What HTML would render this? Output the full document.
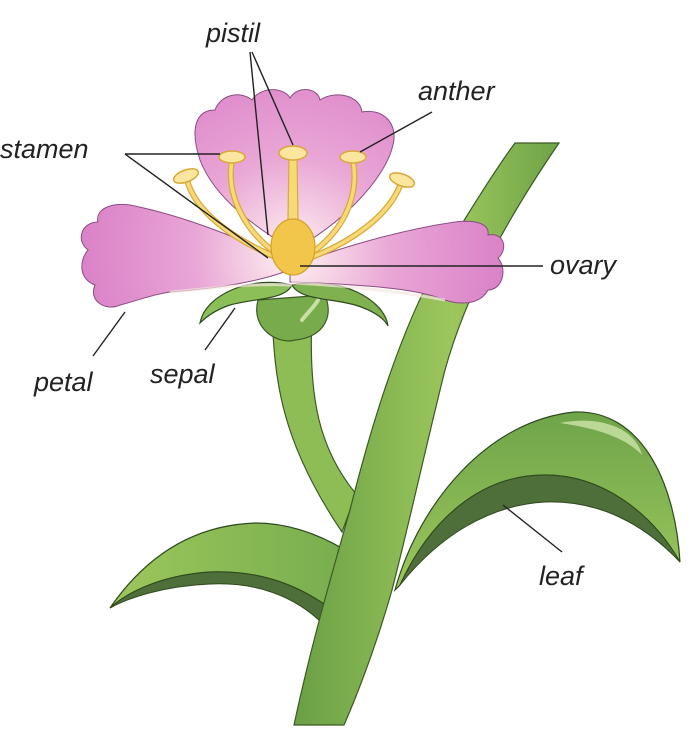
<!DOCTYPE html>
<html><head><meta charset="utf-8"><style>
html,body{margin:0;padding:0;background:#fff;}
svg{display:block;}
text{font-family:"Liberation Sans",sans-serif;font-style:italic;font-size:27px;fill:#222;}
</style></head><body>
<svg width="691" height="737" viewBox="0 0 691 737" xmlns="http://www.w3.org/2000/svg">
<defs>
<linearGradient id="stem" x1="0" x2="1" y1="0" y2="0"><stop offset="0" stop-color="#6a9f45"/><stop offset="0.6" stop-color="#9cc75c"/><stop offset="1" stop-color="#6ea348"/></linearGradient>
<linearGradient id="leaf" x1="0" x2="0" y1="0" y2="1"><stop offset="0" stop-color="#6fa44a"/><stop offset="1" stop-color="#9cc75c"/></linearGradient>
<linearGradient id="leafL" x1="0" x2="1" y1="0" y2="0"><stop offset="0" stop-color="#9cc75c"/><stop offset="1" stop-color="#78ad4e"/></linearGradient>
<radialGradient id="pet" cx="293" cy="255" r="220" gradientUnits="userSpaceOnUse"><stop offset="0" stop-color="#fff3f0"/><stop offset="0.45" stop-color="#e9a6d6"/><stop offset="1" stop-color="#d97fc6"/></radialGradient>
</defs>
<!-- flower stalk -->
<path d="M272,315 C275,380 280,440 342,532 L356,494 C320,450 308,400 312,315 Z" fill="#8fbd55" stroke="#3c5a25" stroke-width="1.2"/>
<!-- left leaf -->
<path d="M110,608 C150,550 200,525 255,523 C290,523 320,535 345,550 L335,612 C300,585 260,570 210,572 C165,575 130,590 110,608 Z" fill="url(#leafL)" stroke="#2f4a1e" stroke-width="1.2"/>
<path d="M110,608 C130,590 165,575 210,572 C260,570 300,585 335,612 L325,626 C295,595 255,582 210,584 C165,586 130,597 110,608 Z" fill="#4e6e3a" stroke="#2f4a1e" stroke-width="1"/>
<!-- right leaf -->
<path d="M395,590 C420,500 490,420 575,412 C640,410 675,480 680,562 C650,510 600,475 545,475 C480,475 430,520 400,585 Z" fill="url(#leaf)" stroke="#2f4a1e" stroke-width="1.2"/>
<path d="M680,562 C650,510 600,475 545,475 C480,475 430,520 400,585 C440,535 490,505 545,502 C600,500 645,525 680,562 Z" fill="#4e6e3a" stroke="#2f4a1e" stroke-width="1"/>
<path d="M560,423 C600,415 635,428 642,455 C625,437 595,428 560,423 Z" fill="#c8e0a4" opacity="0.85"/>
<!-- main stem -->
<path d="M515,143 L559,143 C520,200 470,280 445,370 C425,450 410,520 392,590 C375,650 355,700 344,725 L294,725 C310,650 330,580 350,510 C370,430 400,330 440,260 C470,210 495,170 515,143 Z" fill="url(#stem)" stroke="#3c5a25" stroke-width="1.2"/>
<!-- receptacle -->
<path d="M258,300 C250,330 280,345 295,340 C320,338 335,320 325,295 Z" fill="#78ab4c" stroke="#3c5a25" stroke-width="1.2"/>
<path d="M302,320 C308,312 316,305 318,300" stroke="#c8e0a4" stroke-width="4" fill="none" stroke-linecap="round"/>
<!-- sepals -->
<path d="M200,323 C205,295 250,275 292,285 C285,300 255,298 230,305 C215,310 205,318 200,323 Z" fill="#8cbf58" stroke="#2f4a1e" stroke-width="1.2"/>
<path d="M388,326 C385,300 340,275 292,285 C300,300 330,298 355,305 C372,310 384,318 388,326 Z" fill="#7fb14e" stroke="#2f4a1e" stroke-width="1.2"/>
<!-- back petal -->
<path d="M293,250 C260,230 215,200 200,160 C190,130 195,110 215,110 C220,95 240,90 252,100 C262,85 285,88 290,98 C298,85 318,88 320,100 C335,90 360,95 362,112 C385,108 398,125 393,145 C385,180 340,225 293,250 Z" fill="url(#pet)" stroke="#8a4d83" stroke-width="1"/>
<!-- left petal -->
<path d="M295,268 C250,240 180,215 130,205 C110,202 95,210 98,222 C82,222 75,240 88,250 C78,262 80,280 95,285 C88,300 105,312 120,305 C140,300 150,295 170,292 C220,288 260,282 295,268 Z" fill="url(#pet)" stroke="#8a4d83" stroke-width="1"/>
<!-- right petal -->
<path d="M290,268 C330,250 400,230 455,222 C472,220 490,222 488,235 C505,232 508,250 498,258 C508,270 502,290 488,290 C480,305 460,305 445,300 C420,290 380,285 290,282 Z" fill="url(#pet)" stroke="#8a4d83" stroke-width="1"/>
<path d="M292,285 C240,283 200,290 170,292 M292,283 C340,285 390,290 445,300" stroke="#f7e7df" stroke-width="3" fill="none" opacity="0.7"/>
<!-- stamens -->
<g fill="none" stroke="#d9a93a" stroke-width="6" stroke-linecap="round">
<path d="M288,262 C230,240 195,210 187,180"/>
<path d="M290,262 C250,240 225,200 232,160"/>
<path d="M296,262 C340,240 360,200 353,160"/>
<path d="M298,262 C350,245 390,215 401,183"/>
</g>
<g fill="none" stroke="#f6da78" stroke-width="3.5" stroke-linecap="round">
<path d="M288,262 C230,240 195,210 187,180"/>
<path d="M290,262 C250,240 225,200 232,160"/>
<path d="M296,262 C340,240 360,200 353,160"/>
<path d="M298,262 C350,245 390,215 401,183"/>
</g>
<path d="M289,155 L297,155 L298,220 L288,220 Z" fill="#f6da78" stroke="#d9a93a" stroke-width="1.2"/>
<ellipse cx="293" cy="247" rx="22" ry="28" fill="#f1c64a" stroke="#d4a02b" stroke-width="1.2"/>
<g fill="#fbe6a0" stroke="#d9a93a" stroke-width="1.5">
<ellipse cx="232" cy="157" rx="13" ry="6"/>
<ellipse cx="293" cy="153" rx="14" ry="7"/>
<ellipse cx="353" cy="157" rx="13" ry="6"/>
<ellipse cx="186" cy="176" rx="13" ry="6" transform="rotate(-20 186 176)"/>
<ellipse cx="402" cy="180" rx="13" ry="6" transform="rotate(20 402 180)"/>
</g>
<!-- leader lines -->
<g stroke="#222" stroke-width="1.4" fill="none">
<path d="M250,52 L268,235 M252,52 L293,145"/>
<path d="M125,154 L220,154 M125,154 L268,258"/>
<path d="M432,112 L360,152"/>
<path d="M300,266 L543,266"/>
<path d="M93,356 L125,312"/>
<path d="M205,350 L235,308"/>
<path d="M562,552 L503,505"/>
</g>
<text x="206" y="42">pistil</text>
<text x="418" y="100">anther</text>
<text x="0" y="158">stamen</text>
<text x="550" y="274">ovary</text>
<text x="34" y="391">petal</text>
<text x="150" y="383">sepal</text>
<text x="539" y="585">leaf</text>
</svg>
</body></html>
